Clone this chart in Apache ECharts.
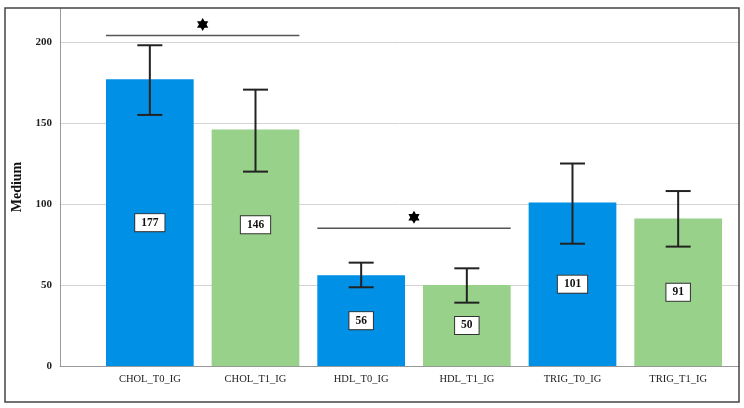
<!DOCTYPE html>
<html>
<head>
<meta charset="utf-8">
<script src="https://cdn.jsdelivr.net/npm/echarts@6/dist/echarts.min.js"></script>
<style>html,body{margin:0;padding:0;background:#fff;}#c{width:744px;height:408px;}</style>
</head>
<body>
<div id="c"></div>
<script>
var categories = ['CHOL_T0_IG', 'CHOL_T1_IG', 'HDL_T0_IG', 'HDL_T1_IG', 'TRIG_T0_IG', 'TRIG_T1_IG'];
var medians = [177, 146, 56, 50, 101, 91];
var errLow = [155, 120, 48.6, 39.1, 75.5, 73.7];
var errHigh = [198, 170.6, 63.8, 60.3, 125, 108];
var sigPairs = [[0, 1, 204], [2, 3, 85]];
var yTicks = [0, 50, 100, 150, 200];

var BLUE = '#0091E6', GREEN = '#98D28A';
var SERIF = '"Liberation Serif","Times New Roman",serif';
var chart = echarts.init(document.getElementById('c'));

function hexagram(cx, cy, r) {
  var t1 = [], t2 = [];
  for (var k = 0; k < 3; k++) {
    var a1 = -Math.PI / 2 + k * 2 * Math.PI / 3;
    var a2 = Math.PI / 2 + k * 2 * Math.PI / 3;
    t1.push([cx + r * Math.cos(a1), cy + r * Math.sin(a1)]);
    t2.push([cx + r * Math.cos(a2), cy + r * Math.sin(a2)]);
  }
  return [t1, t2];
}

var BAR_RATIO = 0.83;

chart.setOption({
  animation: false,
  graphic: [{
    type: 'rect', z: 100,
    shape: { x: 5, y: 8, width: 734, height: 394 },
    style: { fill: 'none', stroke: '#444', lineWidth: 1.5 }
  }],
  grid: [
    { left: 60, right: 5, top: 8, bottom: 42 },
    { left: 97, right: 13, top: 8, bottom: 42 }
  ],
  xAxis: [
    { gridIndex: 0, type: 'value', min: 0, max: 1,
      axisLine: { show: true, onZero: false, lineStyle: { color: '#999', width: 1 } },
      axisTick: { show: false }, axisLabel: { show: false }, splitLine: { show: false } },
    { gridIndex: 1, type: 'category', data: categories,
      axisLine: { show: false }, axisTick: { show: false },
      axisLabel: { fontFamily: SERIF, fontSize: 10.5, color: '#222', margin: 8 } }
  ],
  yAxis: [
    { gridIndex: 0, type: 'value', min: 0, max: 221, interval: 50,
      name: 'Medium', nameLocation: 'middle', nameGap: 31,
      nameTextStyle: { fontFamily: SERIF, fontWeight: 'bold', fontSize: 14, color: '#111' },
      axisLine: { show: true, lineStyle: { color: '#999', width: 1 } },
      axisTick: { show: false },
      axisLabel: { fontFamily: SERIF, fontWeight: 'bold', fontSize: 11, color: '#222', margin: 8,
        showMaxLabel: false,
        formatter: function (v) { return yTicks.indexOf(v) >= 0 ? String(v) : ''; } },
      splitLine: { show: true, showMaxLine: false, showMinLine: false, lineStyle: { color: '#d4d4d4', width: 1 } } },
    { gridIndex: 1, type: 'value', min: 0, max: 221, show: false, splitLine: { show: false } }
  ],
  series: [
    { type: 'bar', xAxisIndex: 1, yAxisIndex: 1, barWidth: (BAR_RATIO * 100) + '%',
      data: medians.map(function (v, i) {
        var item = { value: v, itemStyle: { color: i % 2 === 0 ? BLUE : GREEN } };
        if (i === 1) item.label = { offset: [0, -23] };
        return item;
      }),
      label: { show: true, position: 'inside', fontFamily: SERIF, fontWeight: 'bold', fontSize: 11.5,
        color: '#111', backgroundColor: '#fff', borderColor: '#333', borderWidth: 1, padding: [3, 6, 2, 6] },
      z: 2 },
    { type: 'custom', xAxisIndex: 1, yAxisIndex: 1, z: 5,
      data: categories.map(function (c, i) { return [i, errLow[i], errHigh[i]]; }),
      renderItem: function (params, api) {
        var lo = api.coord([api.value(0), api.value(1)]);
        var hi = api.coord([api.value(0), api.value(2)]);
        var w = 12.5;
        var st = { stroke: '#222', lineWidth: 2 };
        return { type: 'group', children: [
          { type: 'line', shape: { x1: lo[0], y1: lo[1], x2: hi[0], y2: hi[1] }, style: st },
          { type: 'line', shape: { x1: lo[0] - w, y1: lo[1], x2: lo[0] + w, y2: lo[1] }, style: st },
          { type: 'line', shape: { x1: hi[0] - w, y1: hi[1], x2: hi[0] + w, y2: hi[1] }, style: st }
        ] };
      } },
    { type: 'custom', xAxisIndex: 1, yAxisIndex: 1, z: 6, clip: false,
      data: sigPairs,
      renderItem: function (params, api) {
        var a = api.coord([api.value(0), api.value(2)]);
        var b = api.coord([api.value(1), api.value(2)]);
        var band = api.size([1, 0])[0];
        var half = band * BAR_RATIO / 2;
        var x1 = a[0] - half, x2 = b[0] + half, y = a[1];
        var cx = (x1 + x2) / 2, cy = y - 11;
        var tris = hexagram(cx, cy, 6.5);
        return { type: 'group', children: [
          { type: 'line', shape: { x1: x1, y1: y, x2: x2, y2: y }, style: { stroke: '#555', lineWidth: 1.5 } },
          { type: 'polygon', shape: { points: tris[0] }, style: { fill: '#000' } },
          { type: 'polygon', shape: { points: tris[1] }, style: { fill: '#000' } }
        ] };
      } }
  ]
});
</script>
</body>
</html>
